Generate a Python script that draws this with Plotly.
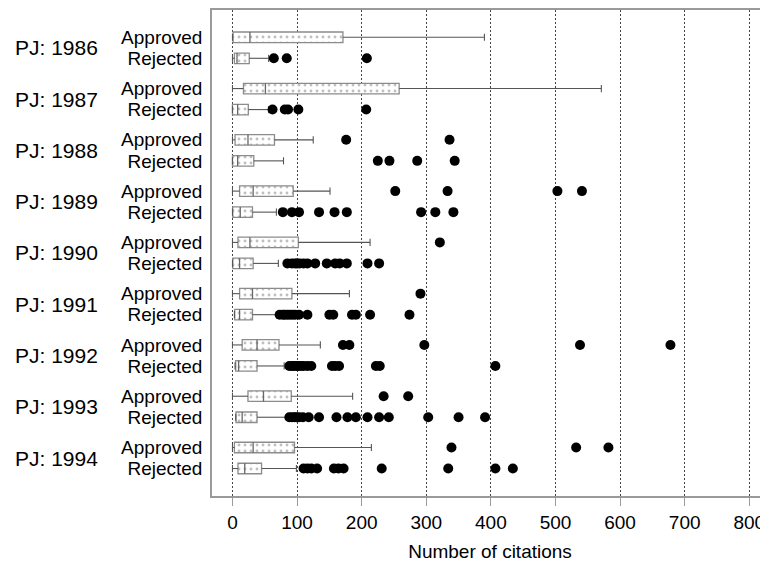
import plotly.graph_objects as go

years = [1986, 1987, 1988, 1989, 1990, 1991, 1992, 1993, 1994]
groups = ["Approved", "Rejected"]

# Approved statistics (number of citations)
lo_a = [0, 0, 0, 0, 0, 0, 0, 0, 0]
q1_a = [1, 17, 4, 11, 8.5, 11, 15, 24, 3]
med_a = [27, 51, 24, 32, 27, 31, 38, 48, 32]
q3_a = [171, 258, 65, 94, 102, 92, 72, 91, 96]
hi_a = [390, 571, 125, 151, 213, 181, 136, 186, 215]
out_a = [[], [], [176, 336], [252, 333, 503, 541], [321], [291],
         [171, 181, 297, 538, 678], [234, 272], [339, 532, 582]]

# Rejected statistics
lo_r = [0, 0, 0, 0, 0, 3, 4, 5, 0]
q1_r = [3, 0, 0, 0.5, 0.5, 3.5, 5, 5.5, 8.5]
med_r = [7, 8, 8, 12, 11, 11, 9.5, 15, 19]
q3_r = [26, 24.5, 33, 31, 32, 31, 38, 38, 45]
hi_r = [56, 56, 79, 68, 71, 70, 80, 84, 99]
out_r = [
    [64, 84, 208],
    [62, 81, 86, 102, 207],
    [225, 243, 286, 344],
    [78, 92, 103, 134, 158, 177, 292, 314, 342],
    [85, 92, 97, 100, 104, 110, 116, 128, 146, 159, 166, 177, 209, 227],
    [73, 78, 81, 85, 89, 93, 97, 103, 116, 150, 156, 185, 191, 213, 274],
    [88, 92, 95, 99, 102, 106, 110, 116, 122, 154, 159, 165, 222, 228, 407],
    [88, 92, 96, 99, 103, 109, 118, 134, 161, 178, 191, 209, 227, 242, 303, 350, 391],
    [110, 116, 122, 131, 157, 164, 172, 231, 334, 407, 434],
]

# Interleave rows: year i -> Approved then Rejected
OFF = 0.41
pos, lo, q1, med, q3, hi, outs, labels = [], [], [], [], [], [], [], []
for i in range(len(years)):
    for g, (L, A, M, B, H, O) in enumerate([
        (lo_a, q1_a, med_a, q3_a, hi_a, out_a),
        (lo_r, q1_r, med_r, q3_r, hi_r, out_r)]):
        pos.append(i + g * OFF)
        lo.append(L[i]); q1.append(A[i]); med.append(M[i])
        q3.append(B[i]); hi.append(H[i]); outs.append(O[i])
        labels.append(groups[g])

BW = 0.205   # box height in y units
CAP = 0.07

fig = go.Figure()

# boxes (patterned bars from q1 to q3)
fig.add_trace(go.Bar(
    y=pos, x=[b - a for a, b in zip(q1, q3)], base=q1, orientation="h",
    width=BW,
    marker=dict(color="white",
                line=dict(color="#8c8c8c", width=1.3),
                pattern=dict(shape=".", fgcolor="#808080", bgcolor="white",
                             size=6, solidity=0.18)),
    showlegend=False, hoverinfo="skip"))

# whiskers and caps
wx, wy = [], []
for p, L, A, B, H in zip(pos, lo, q1, q3, hi):
    wx += [L, A, None, B, H, None, L, L, None, H, H, None]
    wy += [p, p, None, p, p, None, p - CAP, p + CAP, None, p - CAP, p + CAP, None]
fig.add_trace(go.Scatter(x=wx, y=wy, mode="lines",
                         line=dict(color="#555555", width=1.1),
                         showlegend=False, hoverinfo="skip"))

# medians
mx, my = [], []
for p, M in zip(pos, med):
    mx += [M, M, None]
    my += [p - BW / 2, p + BW / 2, None]
fig.add_trace(go.Scatter(x=mx, y=my, mode="lines",
                         line=dict(color="#666666", width=1.3),
                         showlegend=False, hoverinfo="skip"))

# outliers
ox, oy = [], []
for p, O in zip(pos, outs):
    for v in O:
        ox.append(v); oy.append(p)
fig.add_trace(go.Scatter(x=ox, y=oy, mode="markers",
                         marker=dict(color="black", size=10, line=dict(width=0)),
                         showlegend=False, hoverinfo="skip"))

# year labels
for i, yr in enumerate(years):
    fig.add_annotation(x=-0.2797, xref="paper", y=i + OFF / 2, yref="y",
                       text=f"PJ: {yr}", showarrow=False, xanchor="center",
                       font=dict(size=21, color="black"))

# the page body adds an 8px offset, so the figure is sized to fill the window
fig.update_layout(
    width=760, height=555,
    margin=dict(l=204, r=0, t=2, b=67),
    paper_bgcolor="white", plot_bgcolor="white",
    font=dict(family="Liberation Sans, Arial, sans-serif", color="black"),
    showlegend=False,
)
fig.update_xaxes(
    range=[-31.7, 829], tickvals=[0, 100, 200, 300, 400, 500, 600, 700, 800],
    showgrid=True, gridcolor="#444444", griddash="2px,2px", gridwidth=1,
    zeroline=False, showline=True, linecolor="#9a9a9a", linewidth=1.5, mirror=True,
    ticks="outside", ticklen=8, tickcolor="#9a9a9a", tickwidth=1.2,
    tickfont=dict(size=19), automargin=False,
    title=dict(text="Number of citations", font=dict(size=19), standoff=13),
)
fig.update_yaxes(
    range=[8 + OFF + 0.536, -0.532], tickvals=pos, ticktext=labels,
    showgrid=False, zeroline=False, showline=True, linecolor="#9a9a9a", linewidth=1.5,
    ticks="", tickfont=dict(size=19), ticklabelstandoff=4, automargin=False,
)

fig.write_html("out.html")
